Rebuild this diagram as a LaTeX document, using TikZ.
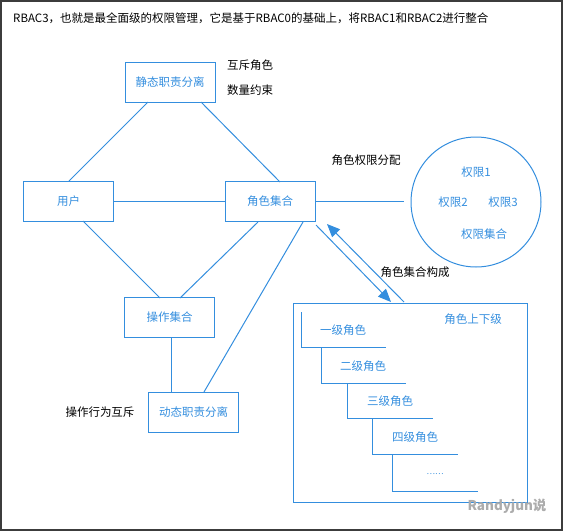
\documentclass[tikz,border=0pt]{standalone}
\usepackage{fontspec}
\setmainfont{Noto Sans CJK SC}
\usetikzlibrary{arrows.meta}
\definecolor{lb}{RGB}{52,142,222}
\definecolor{frame}{RGB}{60,60,60}
\begin{document}
\begin{tikzpicture}[x=1pt,y=-1pt,
  box/.style={draw=lb,line width=1pt,text=lb,minimum width=90pt,minimum height=40pt,inner sep=0pt},
  conn/.style={draw=lb,line width=1pt},
  arr/.style={draw=lb,line width=1pt,-{Triangle[length=13pt,width=11pt]}},
  lbl/.style={text=black,inner sep=0pt},
  blt/.style={text=lb,inner sep=0pt},
  font=\fontsize{11.5}{14}\selectfont]
\useasboundingbox (0,0) rectangle (563,531);
\draw[frame, line width=1.5pt] (1,1) rectangle (562,530);

\node[lbl,anchor=west] (title) at (13,18) {RBAC3，也就是最全面级的权限管理，它是基于RBAC0的基础上，将RBAC1和RBAC2进行整合};

% boxes
\node[box] (s) at (170,82) {静态职责分离};
\node[box] (u) at (68.5,201.5) {用户};
\node[box] (r) at (270,201.5) {角色集合};
\node[box] (o) at (169.5,317.5) {操作集合};
\node[box] (d) at (193.5,412) {动态职责分离};

% labels
\node[lbl] (l1) at (250,65) {互斥角色};
\node[lbl] (l2) at (250,90) {数量约束};
\node[lbl] (l3) at (366,160) {角色权限分配};
\node[lbl] (l4) at (415,272) {角色集合构成};
\node[lbl] (l5) at (100,412) {操作行为互斥};

% permissions circle
\node[draw=lb,line width=1pt,circle,minimum size=130pt,inner sep=0pt] (c) at (476,202) {};
\node[blt] (p1) at (476,172) {权限1};
\node[blt] (p2) at (453,202) {权限2};
\node[blt] (p3) at (503,202) {权限3};
\node[blt] (p4) at (484,234) {权限集合};

% connectors
\coordinate (s1) at (148,102);
\coordinate (u1) at (69,181);
\draw[conn] (s1) -- (u1);
\coordinate (s2) at (201,102);
\coordinate (r1) at (280,182);
\draw[conn] (s2) -- (r1);
\draw[conn] (u.east) -- (r.west);
\coordinate (u2) at (83,221);
\coordinate (o1) at (160,298);
\draw[conn] (u2) -- (o1);
\coordinate (r2) at (258,222);
\coordinate (o2) at (180,298);
\draw[conn] (r2) -- (o2);
\coordinate (r3) at (303,222);
\coordinate (d1) at (204,392);
\draw[conn] (r3) -- (d1);
\coordinate (o3) at (171.5,337);
\coordinate (d2) at (171.5,392);
\draw[conn] (o3) -- (d2);
\coordinate (ce) at (404,201.5);
\draw[conn] (r.east) -- (ce);

% hierarchy box
\node[draw=lb,line width=1pt,minimum width=234pt,minimum height=199pt,inner sep=0pt] (h) at (410,402.5) {};
\node[blt] (ht) at (473,319) {角色上下级};

% arrows
\coordinate (a1s) at (316,225);
\coordinate (a1e) at (391,302);
\draw[arr] (a1s) -- (a1e);
\coordinate (a2s) at (404,302);
\coordinate (a2e) at (327,224);
\draw[arr] (a2s) -- (a2e);

% steps
\draw[conn] (301.5,312) -- (301.5,347.5) -- (386,347.5);
\draw[conn] (321.5,347.5) -- (321.5,383.5) -- (406,383.5);
\draw[conn] (347.5,383.5) -- (347.5,418.5) -- (433,418.5);
\draw[conn] (372.5,418.5) -- (372.5,454.5) -- (458,454.5);
\draw[conn] (392.5,454.5) -- (392.5,491.5) -- (478,491.5);
\node[blt] (g1) at (343,330) {一级角色};
\node[blt] (g2) at (363,366) {二级角色};
\node[blt] (g3) at (390,401) {三级角色};
\node[blt] (g4) at (415,437) {四级角色};
\node[blt,font=\fontsize{8}{10}\selectfont] (g5) at (435,474) {……};

% watermark
\node[text=gray!65,inner sep=0pt,font=\fontsize{13.5}{16}\selectfont\bfseries] (wm) at (507,506) {Randyjun说};
\end{tikzpicture}
\end{document}
